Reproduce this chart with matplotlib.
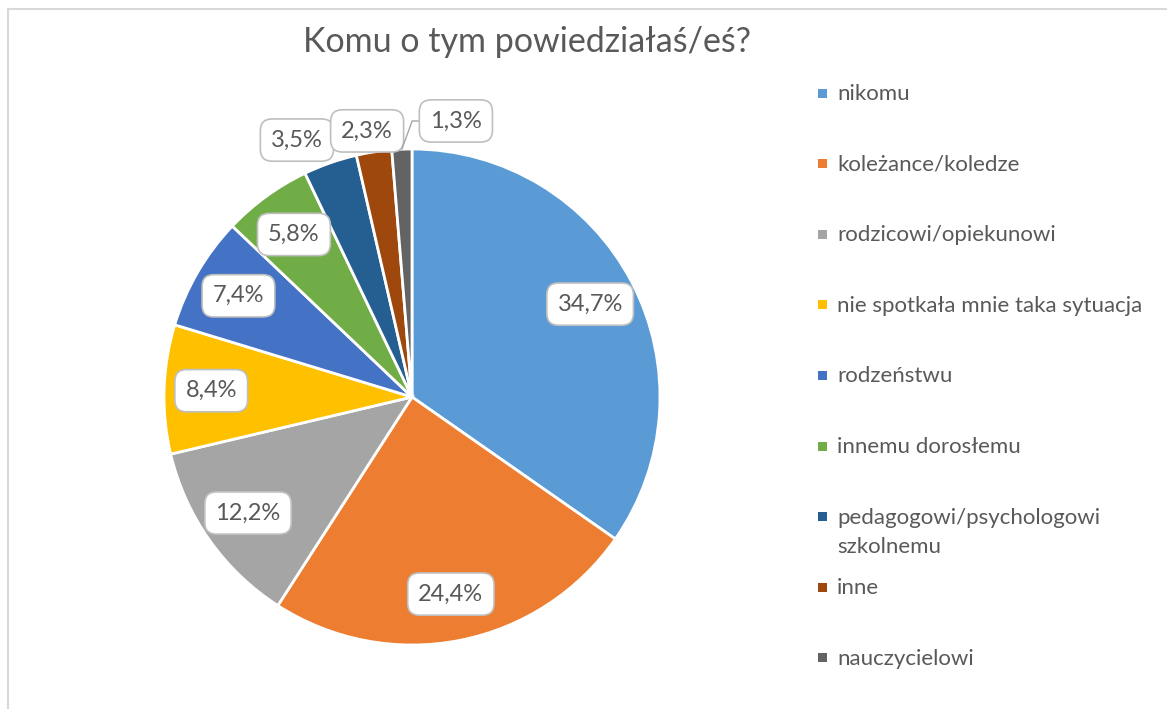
import numpy as np
import matplotlib.pyplot as plt
from matplotlib.patches import Rectangle
from matplotlib.lines import Line2D

# data
categories = ["nikomu", "koleżance/koledze", "rodzicowi/opiekunowi",
              "nie spotkała mnie taka sytuacja", "rodzeństwu", "innemu dorosłemu",
              "pedagogowi/psychologowi\nszkolnemu", "inne", "nauczycielowi"]
values = [34.7, 24.4, 12.2, 8.4, 7.4, 5.8, 3.5, 2.3, 1.3]
labels = ["34,7%", "24,4%", "12,2%", "8,4%", "7,4%", "5,8%", "3,5%", "2,3%", "1,3%"]
colors = ["#5B9BD5", "#ED7D31", "#A5A5A5", "#FFC000", "#4472C4",
          "#70AD47", "#255E91", "#9E480E", "#636363"]
# label spots for the small slices (outside the pie, in pie units)
outside = {6: (-0.464, 1.036), 7: (-0.181, 1.073), 8: (0.177, 1.113)}

txt = "#595959"
plt.rcParams['font.family'] = ['Lato', 'DejaVu Sans']

W, H = 1167, 709
fig = plt.figure(figsize=(W / 100, H / 100), dpi=100)

# pie centre (412, 397) px, radius 248 px
cx, cy, R, half = 412, 397, 248, 262
ax = fig.add_axes([(cx - half) / W, (H - cy - half) / H, 2 * half / W, 2 * half / H])

wedges, _ = ax.pie(values, colors=colors, startangle=90, counterclock=False, radius=1,
                   wedgeprops=dict(edgecolor='white', linewidth=2))
ax.set_xlim(-half / R, half / R)
ax.set_ylim(-half / R, half / R)
ax.axis('off')

box = dict(boxstyle="round,pad=0.45,rounding_size=0.5", fc="white", ec="#BFBFBF", lw=1.2)
fs = 17
for i, w in enumerate(wedges):
    mid = np.deg2rad((w.theta1 + w.theta2) / 2)
    if i in outside:
        pos = outside[i]
        if i == 8:
            ax.annotate(labels[i], xy=(np.cos(mid), np.sin(mid)), xytext=pos,
                        ha='center', va='center', fontsize=fs, color=txt, bbox=box,
                        arrowprops=dict(arrowstyle='-', color='#A6A6A6', lw=1,
                                        shrinkA=0, shrinkB=0,
                                        connectionstyle="angle,angleA=180,angleB=70,rad=0"))
        else:
            ax.text(pos[0], pos[1], labels[i], ha='center', va='center',
                    fontsize=fs, color=txt, bbox=box)
    else:
        r = 0.81
        ax.text(r * np.cos(mid), r * np.sin(mid), labels[i], ha='center', va='center',
                fontsize=fs, color=txt, bbox=box)

fig.text(527 / W, 1 - 42 / H, "Komu o tym powiedziałaś/eś?", ha='center', va='center',
         fontsize=24.5, color=txt)

# legend
y0, step = 93, 70.6
for i, (c, lab) in enumerate(zip(colors, categories)):
    y = y0 + i * step
    fig.patches.append(Rectangle((818 / W, 1 - (y + 4.5) / H), 9 / W, 9 / H,
                                 transform=fig.transFigure, fc=c, ec='none'))
    for j, line in enumerate(lab.split("\n")):
        fig.text(837 / W, 1 - (y + 7 + 29 * j) / H, line, ha='left', va='baseline',
                 fontsize=16, color=txt)

# chart border (top and left edges)
fig.add_artist(Line2D([8 / W, 1], [1 - 9 / H, 1 - 9 / H], transform=fig.transFigure,
                      color='#D9D9D9', lw=1.5))
fig.add_artist(Line2D([8 / W, 8 / W], [0, 1 - 9 / H], transform=fig.transFigure,
                      color='#D9D9D9', lw=1.5))

fig.savefig("out.png", dpi=100, facecolor='white')
